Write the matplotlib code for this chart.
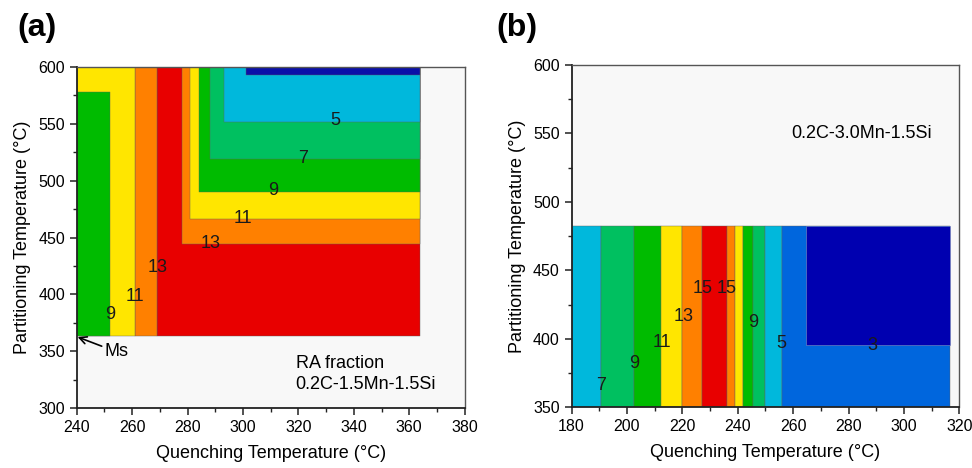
import matplotlib
matplotlib.use("Agg")
import matplotlib.pyplot as plt
from matplotlib.ticker import MultipleLocator

plt.rcParams['font.family'] = ['Liberation Sans', 'DejaVu Sans']

COL = {
    'darkblue': '#0a10a8', 'navy': '#0000b0', 'medblue': '#0066dd',
    'lightblue': '#00b8dc', 'medgreen': '#00c060', 'green': '#00bb00',
    'yellow': '#ffe600', 'orange': '#ff8000', 'red': '#e80000',
}

# ---- panel (a): 0.2C-1.5Mn-1.5Si, regions (drawn in order)
a_x0 = [269, 278, 281, 284, 288, 293, 301, 261, 240, 240]
a_x1 = [364, 364, 364, 364, 364, 364, 364, 269, 261, 252]
a_y0 = [363, 444, 466, 490, 519, 552, 593, 363, 363, 363]
a_y1 = [600, 600, 600, 600, 600, 600, 600, 600, 600, 578]
a_col = ['red', 'orange', 'yellow', 'green', 'medgreen', 'lightblue',
         'darkblue', 'orange', 'yellow', 'green']
a_lab_txt = ['5', '7', '9', '11', '13', '13', '11', '9']
a_lab_x = [333.5, 321.7, 310.9, 300.1, 288.3, 269.1, 261.0, 252.0]
a_lab_y = [553, 519.5, 491.7, 466.8, 444.9, 423.8, 398, 382]

# ---- panel (b): 0.2C-3.0Mn-1.5Si, vertical bands
b_edges = [180, 190.6, 202.6, 212.3, 220.0, 227.0, 236.1, 239.0, 241.9,
           245.5, 250.0, 255.8, 316.8]
b_col = ['lightblue', 'medgreen', 'green', 'yellow', 'orange', 'red',
         'orange', 'yellow', 'green', 'medgreen', 'lightblue', 'medblue']
b_ylo, b_yhi = 350, 482.4
b_navy = (264.5, 316.8, 395.4, 482.4)
b_lab_txt = ['7', '9', '11', '13', '15', '15', '9', '5', '3']
b_lab_x = [190.6, 202.6, 212.5, 220.6, 227.2, 236.1, 245.5, 255.8, 288.5]
b_lab_y = [365.9, 381.7, 397.6, 415.9, 436.6, 436.6, 412.2, 396.3, 395.1]

fig = plt.figure(figsize=(9.72, 4.68), dpi=100)
axa = fig.add_axes([0.079, 0.128, 0.399, 0.729])
axb = fig.add_axes([0.588, 0.130, 0.399, 0.731])

def style(ax):
    ax.set_facecolor('#f8f8f8')
    for s in ['left', 'bottom']:
        ax.spines[s].set_linewidth(1.3)
        ax.spines[s].set_color('#222222')
    for s in ['top', 'right']:
        ax.spines[s].set_linewidth(1.0)
        ax.spines[s].set_color('#555555')
    ax.tick_params(which='both', direction='out', top=False, right=False,
                   labelsize=11.5, color='#222222')
    ax.tick_params(which='major', length=5, width=1.1)
    ax.tick_params(which='minor', length=3, width=1.0)
    ax.set_xlabel('Quenching Temperature (°C)', fontsize=13, labelpad=7)
    ax.set_ylabel('Partitioning Temperature (°C)', fontsize=13, labelpad=5)

# panel a
for x0, x1, y0, y1, c in zip(a_x0, a_x1, a_y0, a_y1, a_col):
    axa.bar(x0, y1 - y0, width=x1 - x0, bottom=y0, align='edge',
            color=COL[c], edgecolor='#606060', linewidth=0.3)
for t, x, y in zip(a_lab_txt, a_lab_x, a_lab_y):
    axa.text(x, y, t, fontsize=13, ha='center', va='center', color='#1a1a1a')
axa.annotate('Ms', xy=(240.3, 362.5), xytext=(250, 349.5), fontsize=13,
             va='center', ha='left',
             arrowprops=dict(arrowstyle='->', color='black', lw=1.2,
                             shrinkA=0, shrinkB=0))
axa.text(319, 339.5, 'RA fraction', fontsize=13, va='center', ha='left')
axa.text(319, 320.5, '0.2C-1.5Mn-1.5Si', fontsize=13, va='center', ha='left')
axa.set_xlim(240, 380)
axa.set_ylim(300, 600)
axa.xaxis.set_major_locator(MultipleLocator(20))
axa.xaxis.set_minor_locator(MultipleLocator(10))
axa.yaxis.set_major_locator(MultipleLocator(50))
axa.yaxis.set_minor_locator(MultipleLocator(25))
style(axa)

# panel b
for i, c in enumerate(b_col):
    x0, x1 = b_edges[i], b_edges[i + 1]
    axb.bar(x0, b_yhi - b_ylo, width=x1 - x0, bottom=b_ylo, align='edge',
            color=COL[c], edgecolor='#606060', linewidth=0.3)
nx0, nx1, ny0, ny1 = b_navy
axb.bar(nx0, ny1 - ny0, width=nx1 - nx0, bottom=ny0, align='edge',
        color=COL['navy'], edgecolor='#8090c0', linewidth=0.4)
for t, x, y in zip(b_lab_txt, b_lab_x, b_lab_y):
    axb.text(x, y, t, fontsize=13, ha='center', va='center', color='#1a1a1a')
axb.text(259.3, 550, '0.2C-3.0Mn-1.5Si', fontsize=13, va='center', ha='left')
axb.set_xlim(180, 320)
axb.set_ylim(350, 600)
axb.xaxis.set_major_locator(MultipleLocator(20))
axb.xaxis.set_minor_locator(MultipleLocator(10))
axb.yaxis.set_major_locator(MultipleLocator(50))
axb.yaxis.set_minor_locator(MultipleLocator(25))
style(axb)

fig.text(0.018, 0.94, '(a)', fontsize=23, fontweight='bold', va='center', ha='left')
fig.text(0.511, 0.94, '(b)', fontsize=23, fontweight='bold', va='center', ha='left')

fig.savefig('out.png', dpi=100, facecolor='white')
